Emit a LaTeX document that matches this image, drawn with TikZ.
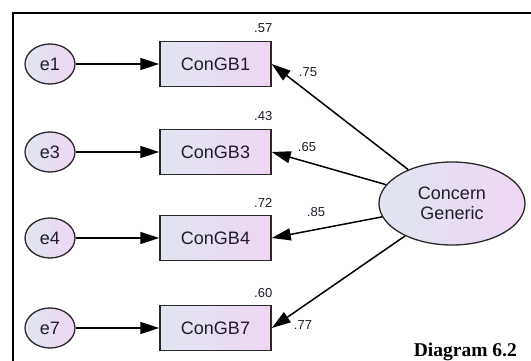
\documentclass[tikz,border=0pt]{standalone}
\usepackage{fontspec}
\setmainfont{Liberation Sans}
\newfontfamily\capfont{Liberation Serif}
\usetikzlibrary{arrows.meta,shapes.geometric}
\definecolor{fillA}{RGB}{224,229,240}
\definecolor{fillB}{RGB}{238,214,243}
\definecolor{edge}{RGB}{40,40,40}
\definecolor{ink}{RGB}{30,30,40}
\begin{document}
\begin{tikzpicture}[x=1pt,y=-1pt,
  lbl/.style={font=\fontsize{18}{20.5}\selectfont, text=ink},
  num/.style={font=\fontsize{13}{15}\selectfont, text=ink, inner sep=0pt},
  errnode/.style={ellipse, draw=edge, line width=1.3pt, minimum width=50pt, minimum height=40pt, inner sep=0pt, left color=fillA, right color=fillB, lbl},
  obsbox/.style={rectangle, draw=edge, line width=1.5pt, minimum width=111pt, minimum height=45pt, inner sep=0pt, left color=fillA, right color=fillB, lbl},
  latent/.style={ellipse, draw=edge, line width=1.3pt, minimum width=146pt, minimum height=83pt, inner sep=0pt, left color=fillA, right color=fillB, lbl, align=center},
  path/.style={line width=1.5pt, draw=black, -{Triangle[length=19pt,width=12pt]}}
]
\useasboundingbox (0,0) rectangle (531,361);
\fill[white] (0,0) rectangle (531,361);
% frame
\draw[line width=2pt] (13,361) -- (13,13) -- (531,13);

% error terms
\node[errnode] (e1) at (50,64) {e1};
\node[errnode] (e3) at (50,152) {e3};
\node[errnode] (e4) at (50,238) {e4};
\node[errnode] (e7) at (50,328) {e7};

% observed indicators
\node[obsbox] (b1) at (215.5,64) {ConGB1};
\node[obsbox] (b3) at (215.5,152) {ConGB3};
\node[obsbox] (b4) at (215.5,238) {ConGB4};
\node[obsbox] (b7) at (215.5,328) {ConGB7};

% latent factor
\node[latent] (cg) at (452,203.5) {Concern\\Generic};

% squared multiple correlations
\node[num, anchor=south east] (r1) at (272.5,33) {.57};
\node[num, anchor=south east] (r3) at (272.5,121) {.43};
\node[num, anchor=south east] (r4) at (272.5,208) {.72};
\node[num, anchor=south east] (r7) at (272.5,298) {.60};

% error paths
\draw[path] (e1) -- (b1);
\draw[path] (e3) -- (b3);
\draw[path] (e4) -- (b4);
\draw[path] (e7) -- (b7);

% factor loadings
\draw[path] (cg) -- (b1.east);
\draw[path] (cg) -- (b3.east);
\draw[path] (cg) -- (b4.east);
\draw[path] (cg) -- (b7.east);

\node[num] (l1) at (308,72) {.75};
\node[num] (l3) at (307,147) {.65};
\node[num] (l4) at (316,212) {.85};
\node[num] (l7) at (303,325) {.77};

% caption
\node[anchor=base east, inner sep=0pt, font=\capfont\bfseries\fontsize{19.5}{22}\selectfont] (cap) at (517,356) {Diagram 6.2};
\end{tikzpicture}
\end{document}
